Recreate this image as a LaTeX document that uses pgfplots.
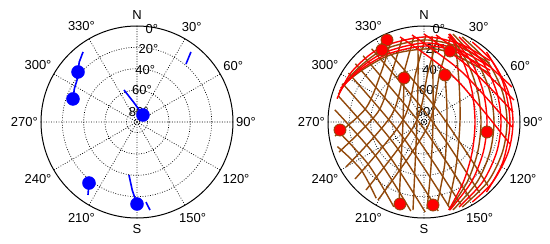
\documentclass[border=0pt]{standalone}
\usepackage{fontspec}
\setmainfont{Liberation Sans}
\usepackage{pgfplots}
\pgfplotsset{compat=1.18}
\usepgfplotslibrary{polar}

\definecolor{satblue}{RGB}{0,0,255}
\definecolor{satred}{RGB}{255,0,0}
\definecolor{trkbrown}{RGB}{145,72,10}

% skyplot: azimuth clockwise from north, elevation 90 at the centre
% radius unit = 96 for elevation 0
\pgfplotsset{
  sky/.style={
    scale only axis, width=192pt, height=192pt,
    xmin=0, xmax=360, ymin=0, ymax=96,
    xtick={0,30,...,330},
    xticklabels={90°,60°,30°,\rule[-3pt]{0pt}{3pt}N,330°,300°,270°,240°,210°,\rule{0pt}{12.5pt}S,150°,120°},
    ytick={2.5,10.667,32,53.333,74.667},
    yticklabels={},
    xmajorgrids, ymajorgrids,
    major grid style={black, line width=0.7pt, dash pattern=on 0.8pt off 1.7pt},
    tick style={draw=none},
    x axis line style={black, line width=1pt},
    y axis line style={draw=none},
    tick label style={font=\fontsize{13}{15}\selectfont},
    xticklabel style={inner sep=3pt},
    clip=false,
  },
  table/azel/.style={row sep=\\, x expr={mod(450-\thisrow{az},360)}, y expr={(90-\thisrow{el})*96/90}},
  blutrk/.style={satblue, line width=1.6pt},
  brtrk/.style={trkbrown, line width=1.4pt, smooth, data cs=cart},
  rdtrk/.style={satred, line width=1.4pt, smooth, data cs=cart},
}

\newcommand{\elevlabels}{%
  \node[font=\fontsize{13}{15}\selectfont] at (axis cs:81,94.5) {0°};
  \node[font=\fontsize{13}{15}\selectfont] at (axis cs:81,73.5) {20°};
  \node[font=\fontsize{13}{15}\selectfont] at (axis cs:81,52.5) {40°};
  \node[font=\fontsize{13}{15}\selectfont] at (axis cs:81,32) {60°};
  \node[font=\fontsize{13}{15}\selectfont] at (axis cs:81,10.5) {80°};
}

\begin{document}
\begin{tikzpicture}
\useasboundingbox (0,0) rectangle (550pt,244pt);

% ---------------- left: blue satellites ----------------
\begin{polaraxis}[sky, at={(137pt,122pt)}, anchor=center]
\elevlabels
\addplot[blutrk] table[azel] {az el\\ 322.4 7.1\\ 316 12\\ 310.3 17.5\\};
\addplot[blutrk] table[azel] {az el\\ 307.3 20.4\\ 298 23.5\\ 289.8 26.2\\};
\addplot[blutrk] table[azel] {az el\\ 337.9 57.6\\ 350 71\\ 40.6 81.4\\};
\addplot[blutrk] table[azel] {az el\\ 40.2 18.8\\ 37.6 7.1\\};
\addplot[blutrk] table[azel] {az el\\ 218.2 17.2\\ 213.9 7.6\\};
\addplot[blutrk] table[azel] {az el\\ 188.6 39.7\\ 184 26\\ 180 13.1\\};
\addplot[blutrk] table[azel] {az el\\ 173.6 14.5\\ 171.6 6.6\\};
\addplot[only marks, mark=*, mark size=6.5pt, satblue] table[azel]
  {az el\\ 310.3 17.5\\ 289.8 26.2\\ 40.6 81.4\\ 218.2 17.2\\ 180 13.1\\};
\end{polaraxis}

% ---------------- right: red satellites ----------------
\begin{polaraxis}[sky, at={(424pt,122pt)}, anchor=center]
\elevlabels
% near-vertical tracks
\addplot[brtrk] coordinates {(-20,44) (-21,0) (-23,-40) (-25,-81)};
\addplot[brtrk] coordinates {(-6,84) (-6,40) (-7,0) (-9,-45) (-11,-88)};
\addplot[brtrk] coordinates {(8,86) (9,40) (9,0) (7,-45) (3,-87)};
\addplot[brtrk] coordinates {(21,47) (23,10) (21,-40) (13,-83)};
\addplot[brtrk] coordinates {(31,82) (35,40) (36,0) (32,-45) (24,-84)};
% diagonal tracks, north-west to south-east
\addplot[brtrk] coordinates {(-86.6,-24.6) (-63.2,-47.4) (-47.8,-76.2)};
\addplot[brtrk] coordinates {(-89.8,-5.2) (-56,-42) (-30.2,-84.8)};
\addplot[brtrk] coordinates {(-89.2,12.2) (-47.2,-35.4) (-13.2,-89)};
\addplot[brtrk] coordinates {(-86,26.4) (-38.4,-28.8) (1.2,-90)};
\addplot[brtrk] coordinates {(-81.4,38.5) (-29.6,-22.2) (14.2,-88.9)};
\addplot[brtrk] coordinates {(-75.5,49) (-20.8,-15.6) (25.9,-86.2)};
\addplot[brtrk] coordinates {(-68.6,58.2) (-12,-9) (36.6,-82.2)};
\addplot[brtrk] coordinates {(-60.9,66.2) (-3.2,-2.4) (46.5,-77)};
\addplot[brtrk] coordinates {(-52.4,73.2) (5.6,4.2) (55.6,-70.8)};
\addplot[brtrk] coordinates {(-43.1,79.1) (14.4,10.8) (63.9,-63.5)};
% diagonal tracks, north to south-west
\addplot[brtrk] coordinates {(-34,78) (-42,52) (-58,14) (-89,-14)};
\addplot[brtrk] coordinates {(-22,83) (-32,50) (-46,10) (-85,-30)};
\addplot[brtrk] coordinates {(-10,86) (-20,50) (-33,6) (-78,-45)};
\addplot[brtrk] coordinates {(2,87) (-8,50) (-21,2) (-69,-57)};
\addplot[brtrk] coordinates {(14,86) (4,50) (-9,-2) (-58,-68)};
\addplot[brtrk] coordinates {(26,83) (16,50) (3,-6) (-46,-78)};
% eastern arcs and northern band
\addplot[brtrk] coordinates {(38.2,85) (63.7,60) (78.5,30) (83,0) (78.5,-30) (63.7,-60) (38.2,-85)};
\addplot[brtrk] coordinates {(29,88) (53.1,60) (66,30) (70,0) (66,-30) (53.1,-60) (29,-88)};
\addplot[brtrk] coordinates {(25,88) (43.2,60) (53.7,30) (57,0) (53.7,-30) (43.2,-60) (25,-88)};
\addplot[brtrk] coordinates {(-85.6,27.8) (-70.4,49.3) (-41.5,71.9) (0,82) (35.1,75.2) (65.4,58.9)};
\addplot[brtrk] coordinates {(-82.2,36.6) (-59.4,53.5) (-32.9,67.4) (0,73) (25.3,69.6) (66.3,48.2)};
\addplot[rdtrk] coordinates {(48.3,80) (68.7,60) (84.3,30) (89,0) (84.3,-30) (68.7,-60) (48.3,-80)};
\addplot[rdtrk] coordinates {(62.5,70) (78.9,40) (86,0) (78.9,-40) (62.5,-70)};
\addplot[rdtrk] coordinates {(35,85) (58.6,60) (72.7,30) (77,0) (72.7,-30) (58.6,-60) (35,-85)};
\addplot[rdtrk] coordinates {(25.9,88) (47.4,60) (59.3,30) (63,0) (59.3,-30) (47.4,-60) (25.9,-88)};
\addplot[rdtrk] coordinates {(24.8,88) (39.4,60) (48.2,30) (51,0) (48.2,-30) (39.4,-60) (24.8,-88)};
% north-east tracks, top band to the eastern rim
\addplot[rdtrk] coordinates {(-24,85) (30,45) (86,-22)};
\addplot[rdtrk] coordinates {(-12,87) (38,50) (88,-5)};
\addplot[rdtrk] coordinates {(0,88) (45,55) (89,10)};
\addplot[rdtrk] coordinates {(12,87) (52,58) (90,22)};
\addplot[rdtrk] coordinates {(24,85) (58,62) (88,35)};
\addplot[rdtrk] coordinates {(-86.9,23.3) (-72.1,50.5) (-43,74.5) (0,85) (36.4,77.9) (65.8,61.4)};
\addplot[rdtrk] coordinates {(-84.6,30.8) (-66.2,51.7) (-40,69.3) (0,79) (33.8,72.5) (65.9,55.3)};
\addplot[rdtrk] coordinates {(-83.4,33.7) (-62.8,52.7) (-36.1,68) (0,76) (28.9,71.4) (66.2,51.7)};
% current positions
\addplot[only marks, data cs=cart, mark=*, mark size=6pt,
  mark options={fill=satred, draw=trkbrown, line width=0.8pt}] coordinates {
  (-37,82) (-42,72) (-20,44) (26,71) (21,47) (-84,-8) (63,-10) (-24,-82) (9,-83)};
\end{polaraxis}
\end{tikzpicture}
\end{document}
